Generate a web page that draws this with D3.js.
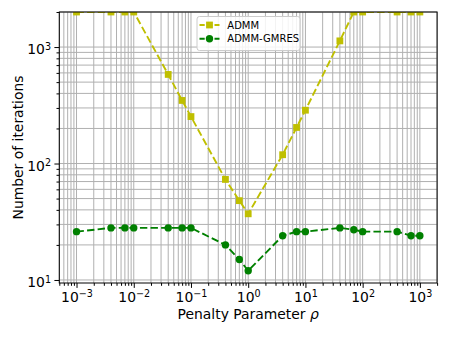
<!DOCTYPE html>
<html>
<head>
<meta charset="utf-8">
<script src="https://cdn.jsdelivr.net/npm/d3@7"></script>
<style>
  body { margin: 0; background: #fff; }
  svg { font-family: "DejaVu Sans", sans-serif; }
  .domain { display: none; }
</style>
</head>
<body>
<div class="viz"></div>
<script>
// penalty values rho and iteration counts
var rho = [1e-3, 4e-3, 7e-3, 1e-2, 4e-2, 7e-2, 0.1, 0.4, 0.7, 1, 4, 7, 10, 40, 70, 100, 400, 700, 1000];
var admm = [2000, 2000, 2000, 2000, 582, 348, 253, 73, 48, 37, 119, 204, 287, 1130, 2000, 2000, 2000, 2000, 2000];
var gmres = [26, 28, 28, 28, 28, 28, 28, 20, 15, 12, 24, 26, 26, 28, 27, 26, 26, 24, 24];
var seriesNames = ["ADMM", "ADMM-GMRES"];
var xTickExp = [-3, -2, -1, 0, 1, 2, 3];
var yTickExp = [1, 2, 3];

var width = 450,
  height = 337,
  margin = { top: 12, right: 12.9, bottom: 54, left: 59.3 },
  innerW = width - margin.left - margin.right,
  innerH = height - margin.top - margin.bottom;

var colors = ["#bfbf00", "#008000"];

var svg = d3
  .select(".viz")
  .append("svg")
  .attr("width", width)
  .attr("height", height);

var x = d3.scaleLog().domain([5e-4, 2e3]).range([0, innerW]);
var y = d3.scaleLog().domain([9.42, 2000]).range([innerH, 0]);

var g = svg
  .append("g")
  .attr("transform", "translate(" + margin.left + "," + margin.top + ")");

svg
  .append("defs")
  .append("clipPath")
  .attr("id", "clip")
  .append("rect")
  .attr("width", innerW)
  .attr("height", innerH);

// minor values for grids and small ticks
function minors(scale) {
  var dom = scale.domain(), out = [];
  for (var e = -5; e <= 4; e++) {
    for (var k = 2; k <= 9; k++) {
      var v = k * Math.pow(10, e);
      if (v >= dom[0] && v <= dom[1] * 1.001) out.push(v);
    }
  }
  return out;
}
var xMajor = xTickExp.map(function (e) { return Math.pow(10, e); });
var yMajor = yTickExp.map(function (e) { return Math.pow(10, e); });
var xMinor = minors(x), yMinor = minors(y);

// grid
var grid = g.append("g").attr("class", "grid");
grid
  .selectAll("line.gx")
  .data(xMajor.concat(xMinor))
  .enter()
  .append("line")
  .attr("x1", function (d) { return x(d); })
  .attr("x2", function (d) { return x(d); })
  .attr("y1", 0)
  .attr("y2", innerH)
  .attr("stroke", "#b0b0b0")
  .attr("stroke-width", 1);
grid
  .selectAll("line.gy")
  .data(yMajor.concat(yMinor))
  .enter()
  .append("line")
  .attr("y1", function (d) { return y(d); })
  .attr("y2", function (d) { return y(d); })
  .attr("x1", 0)
  .attr("x2", innerW)
  .attr("stroke", "#b0b0b0")
  .attr("stroke-width", 1);

// axes
function powLabel(sel) {
  sel.selectAll(".tick text").each(function (d) {
    var e = Math.round(Math.log10(d));
    var t = d3.select(this).text(null);
    t.append("tspan").text("10");
    t.append("tspan")
      .attr("dy", "-0.45em")
      .style("font-size", "9.6px")
      .text(e < 0 ? "\u2212" + -e : "" + e);
  });
}

var xAx = g.append("g").attr("transform", "translate(0," + innerH + ")");
xAx.call(d3.axisBottom(x).tickValues(xMinor).tickSize(2.8).tickFormat(function () { return ""; }));
var xAxMaj = g.append("g").attr("transform", "translate(0," + innerH + ")");
xAxMaj.call(d3.axisBottom(x).tickValues(xMajor).tickSize(4.9).tickPadding(4));
xAxMaj.selectAll(".tick text").attr("dy", null).attr("y", 18.7);
powLabel(xAxMaj);

var yAx = g.append("g");
yAx.call(d3.axisLeft(y).tickValues(yMinor).tickSize(2.8).tickFormat(function () { return ""; }));
var yAxMaj = g.append("g");
yAxMaj.call(d3.axisLeft(y).tickValues(yMajor).tickSize(4.9));
yAxMaj.selectAll(".tick text").attr("dy", null).attr("y", 6.5).attr("x", -8.3);
powLabel(yAxMaj);

g.selectAll(".tick text")
  .style("font-family", "DejaVu Sans")
  .style("font-size", "13.9px")
  .attr("fill", "#000");
g.selectAll(".tick line").attr("stroke", "#000").attr("stroke-width", 1);

// series
var data = [admm, gmres];
var line = d3
  .line()
  .x(function (d) { return x(d[0]); })
  .y(function (d) { return y(d[1]); });

var plot = g.append("g").attr("clip-path", "url(#clip)");
data.forEach(function (vals, i) {
  var pts = rho.map(function (r, j) { return [r, vals[j]]; });
  plot
    .append("path")
    .datum(pts)
    .attr("d", line)
    .attr("fill", "none")
    .attr("stroke", colors[i])
    .attr("stroke-width", 1.9)
    .attr("stroke-dasharray", "7.4,3.2");
  if (i === 0) {
    plot
      .selectAll("rect.m0")
      .data(pts)
      .enter()
      .append("rect")
      .attr("x", function (d) { return x(d[0]) - 3.4; })
      .attr("y", function (d) { return y(d[1]) - 3.4; })
      .attr("width", 6.8)
      .attr("height", 6.8)
      .attr("fill", colors[i]);
  } else {
    plot
      .selectAll("circle.m1")
      .data(pts)
      .enter()
      .append("circle")
      .attr("cx", function (d) { return x(d[0]); })
      .attr("cy", function (d) { return y(d[1]); })
      .attr("r", 3.7)
      .attr("fill", colors[i]);
  }
});

// frame
g.append("rect")
  .attr("width", innerW)
  .attr("height", innerH)
  .attr("fill", "none")
  .attr("stroke", "#000")
  .attr("stroke-width", 1);

// legend
var leg = svg.append("g").attr("transform", "translate(197,16.5)");
leg.append("rect")
  .attr("width", 103)
  .attr("height", 34)
  .attr("rx", 2.5)
  .attr("fill", "#fff")
  .attr("fill-opacity", 0.85)
  .attr("stroke", "#cccccc")
  .attr("stroke-width", 1);
seriesNames.forEach(function (name, i) {
  var yy = 8.5 + i * 13.7;
  leg.append("line")
    .attr("x1", 2.5).attr("x2", 22.5)
    .attr("y1", yy).attr("y2", yy)
    .attr("stroke", colors[i])
    .attr("stroke-width", 1.9)
    .attr("stroke-dasharray", "5.2,2.3");
  if (i === 0) {
    leg.append("rect")
      .attr("x", 12.5 - 3.4).attr("y", yy - 3.4)
      .attr("width", 6.8).attr("height", 6.8)
      .attr("fill", colors[i]);
  } else {
    leg.append("circle")
      .attr("cx", 12.5).attr("cy", yy).attr("r", 3.7)
      .attr("fill", colors[i]);
  }
  leg.append("text")
    .attr("x", 30.3)
    .attr("y", yy + 3.6)
    .style("font-size", "10px")
    .text(name);
});

// axis titles
svg.append("text")
  .attr("x", margin.left + innerW / 2)
  .attr("y", 319)
  .attr("text-anchor", "middle")
  .style("font-size", "13.9px")
  .html("Penalty Parameter <tspan font-style=\"italic\">\u03c1</tspan>");

svg.append("text")
  .attr("transform", "translate(23," + (margin.top + innerH / 2) + ") rotate(-90)")
  .attr("text-anchor", "middle")
  .style("font-size", "13.9px")
  .text("Number of iterations");
</script>
</body>
</html>
